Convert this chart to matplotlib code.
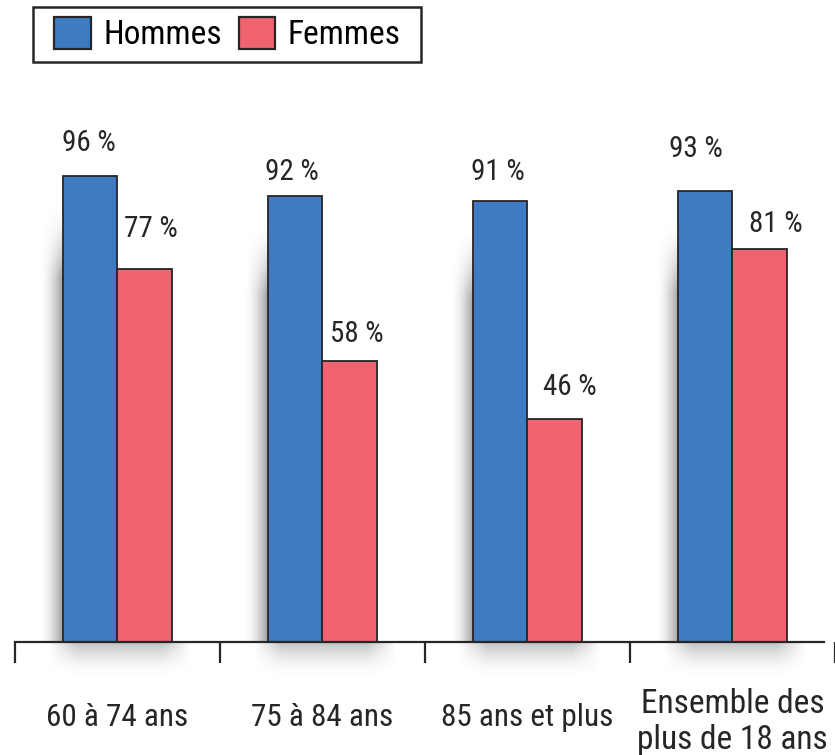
import numpy as np
import matplotlib
matplotlib.use("Agg")
from matplotlib import pyplot as plt
from matplotlib.patches import Rectangle

groupes = ["60 à 74 ans", "75 à 84 ans", "85 ans et plus", "Ensemble des\nplus de 18 ans"]
hommes = [96, 92, 91, 93]
femmes = [77, 58, 46, 81]

# petits décalages des étiquettes (px) : (dx, écart au-dessus de la barre)
decal_h = [(-1, 25), (-3, 16), (-2, 21), (-9, 34)]
decal_f = [(6, 32), (7, 19), (15, 24), (16, 17)]

bleu = "#3e7bc3"
rouge = "#f06370"
encre = "#262626"

plt.rcParams["font.family"] = ["Roboto Condensed", "Open Sans Condensed",
                               "Liberation Sans Narrow", "DejaVu Sans Condensed",
                               "Roboto", "DejaVu Sans"]
plt.rcParams["font.stretch"] = "condensed"

fig = plt.figure(figsize=(8.35, 7.55), dpi=100)
ax = fig.add_axes([0, 0, 1, 1])

PX_X = 1 / 207.67   # une unité de groupe = 207.67 px
PX_Y = 1 / 4.85     # 1 % = 4.85 px
ax.set_xlim(-119 * PX_X, 716 * PX_X)
ax.set_ylim(-113 * PX_Y, 642 * PX_Y)

x = np.arange(len(groupes))
w = 55 * PX_X


def ombre(alpha, gris=0.35):
    img = np.zeros(alpha.shape + (4,))
    img[..., :3] = gris
    img[..., 3] = alpha
    return img


# ombre douce à gauche des barres bleues
t = np.linspace(0, 1, 80)
rampe_x = t ** 1.8                                  # sombre contre la barre
haut = np.clip(np.linspace(0, 6, 120), 0, 1) ** 1.5  # fondu en haut
ombre_g = ombre(haut[:, None] * rampe_x[None, :] * 0.6)

# ombre sous l'axe, qui s'estompe vers le bas et sur les côtés
bas = (1 - t) ** 2
cote = np.clip(np.minimum(t, 1 - t) * 5, 0, 1)
ombre_b = ombre(bas[:, None] * cote[None, :] * 0.35, gris=0.3)

for i in x:
    g = i - w
    ax.imshow(ombre_g, extent=(g - 24 * PX_X, g, 0, hommes[i] - 6),
              aspect="auto", zorder=1, interpolation="bilinear")
    ax.imshow(ombre_b, extent=(g - 15 * PX_X, i + w + 20 * PX_X, -38 * PX_Y, 0),
              aspect="auto", zorder=1, interpolation="bilinear")

b1 = ax.bar(x - w / 2, hommes, w, color=bleu, edgecolor=encre, linewidth=1.3,
            label="Hommes", zorder=2)
b2 = ax.bar(x + w / 2, femmes, w, color=rouge, edgecolor=encre, linewidth=1.3,
            label="Femmes", zorder=2)

for bars, vals, decal in ((b1, hommes, decal_h), (b2, femmes, decal_f)):
    for r, v, (dx, dy) in zip(bars, vals, decal):
        ax.annotate(f"{v} %", (r.get_x() + r.get_width() / 2, v),
                    xytext=(dx * 0.72, dy * 0.72), textcoords="offset points",
                    ha="center", va="baseline", fontsize=21, color=encre)

# axe du bas avec graduations entre les groupes
for s in ("top", "right", "left"):
    ax.spines[s].set_visible(False)
ax.spines["bottom"].set_position(("data", 0))
ax.spines["bottom"].set_bounds(-0.5, 716 * PX_X)
ax.spines["bottom"].set_linewidth(1.6)
ax.spines["bottom"].set_color(encre)
ax.spines["bottom"].set_zorder(3)
ax.set_xticks([-0.5, 0.5, 1.5, 2.5, 3.5])
ax.set_xticklabels([])
ax.tick_params(axis="x", length=15, width=1.6, direction="out", color=encre)
ax.set_yticks([])

for i, g in enumerate(groupes):
    if "\n" in g:
        ax.text(i, -80 * PX_Y, g, ha="center", va="center", fontsize=24,
                color=encre, linespacing=1.18)
    else:
        ax.text(i, -76 * PX_Y, g, ha="center", va="center", fontsize=22.5,
                color=encre)

# légende sans cadre, cadre tracé à part
leg = ax.legend(loc="upper left", bbox_to_anchor=(54 / 835, 1 - 17 / 755), ncol=2,
                fontsize=24, frameon=False,
                handlelength=1.1, handleheight=1.1, handletextpad=0.38,
                columnspacing=0.5, borderpad=0, borderaxespad=0)
for h in leg.legend_handles:
    h.set_edgecolor(encre)
    h.set_linewidth(1.6)
fig.patches.append(Rectangle((33 / 835, 1 - 62 / 755), 388 / 835, 55 / 755,
                             transform=fig.transFigure, fill=False,
                             edgecolor=encre, linewidth=1.8))

fig.savefig("out.png", dpi=100)
